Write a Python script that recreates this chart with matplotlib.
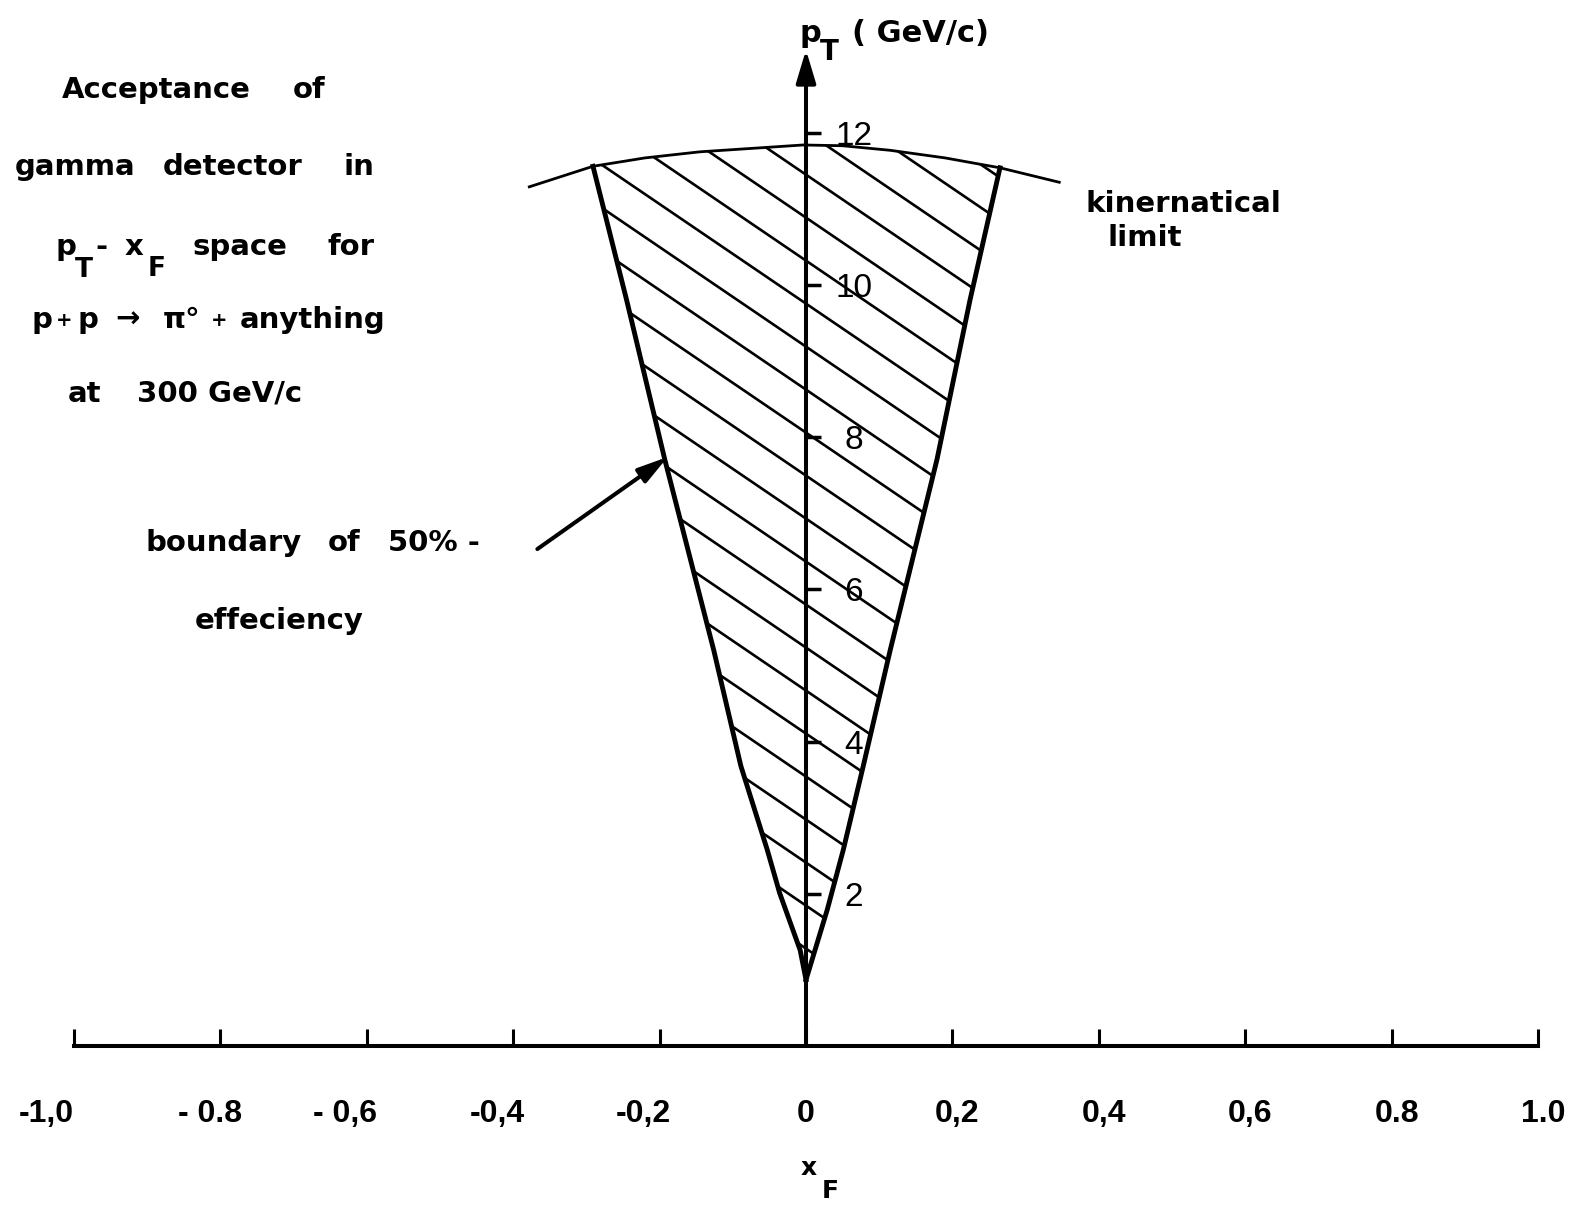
import numpy as np
import matplotlib.pyplot as plt
from matplotlib.patches import Polygon
from matplotlib.collections import LineCollection

W, H = 1581, 1205
X0, XS = 806, 732.0    # pixel column of xF = 0, pixels per unit of xF
Y0, YS = 1046, 76.1    # pixel row of pT = 0, pixels per GeV/c

# boundary of 50% efficiency, left and right branch (xF, pT in GeV/c)
left_pt = [0.87, 1.26, 2.01, 2.58, 3.68, 5.2, 7.71, 9.8, 11.56]
left_xf = [0.0, -0.008, -0.036, -0.053, -0.089, -0.126, -0.193, -0.245, -0.291]
right_pt = [0.87, 1.79, 2.58, 3.67, 5.2, 7.71, 9.8, 11.54]
right_xf = [0.0, 0.029, 0.051, 0.078, 0.115, 0.179, 0.224, 0.265]

# kinematical limit
kin_xf = [-0.378, -0.291, -0.22, -0.145, -0.004, 0.05, 0.115, 0.19, 0.265, 0.346]
kin_pt = [11.29, 11.56, 11.67, 11.75, 11.84, 11.83, 11.77, 11.67, 11.54, 11.35]

xf_ticks = [-1.0, -0.8, -0.6, -0.4, -0.2, 0.0, 0.2, 0.4, 0.6, 0.8, 1.0]
xf_labels = ["-1,0", "- 0.8", "- 0,6", "-0,4", "-0,2", "0", "0,2", "0,4", "0,6", "0.8", "1.0"]
pt_ticks = [2, 4, 6, 8, 10, 12]
pt_labels = ["2", "4", "6", "8", "10", "12"]

# hand-lettered labels sit a little off their ticks (pixels)
xf_label_shift = [-28, -10, -22, -16, -16, 0, 5, 5, 5, 5, 5]


def dx(px):
    return (px - X0) / XS


def dy(py):
    return (Y0 - py) / YS


fig = plt.figure(figsize=(W / 100, H / 100), dpi=100)
ax = fig.add_axes([0, 0, 1, 1])
ax.set_xlim(dx(0), dx(W))
ax.set_ylim(dy(H), dy(0))
ax.axis("off")

# hatched acceptance region, closed along the kinematical limit
poly_x = left_xf + kin_xf[2:8] + right_xf[::-1]
poly_pt = left_pt + kin_pt[2:8] + right_pt[::-1]
region = Polygon(np.column_stack([poly_x, poly_pt]), closed=True, fill=False, lw=0)
ax.add_patch(region)

slope = -0.68 * XS / YS
segs = [[(-0.45, c - 0.45 * slope), (0.45, c + 0.45 * slope)]
        for c in np.arange(2.41 - 0.565 * 6, 17, 0.565)]
hatch = LineCollection(segs, colors="k", linewidths=1.9)
ax.add_collection(hatch)
hatch.set_clip_path(region)

ax.plot(left_xf, left_pt, color="k", lw=3.5, solid_joinstyle="round")
ax.plot(right_xf, right_pt, color="k", lw=3.5, solid_joinstyle="round")
ax.plot(kin_xf, kin_pt, color="k", lw=2.0)

# axes
ax.plot([-1, 1], [0, 0], color="k", lw=2.9)
ax.vlines(xf_ticks, 0, 0.22, color="k", lw=2.2)
ax.annotate("", xy=(0, 13.09), xytext=(0, 0),
            arrowprops=dict(arrowstyle="-|>,head_length=1.0,head_width=0.3",
                            lw=2.9, color="k", shrinkA=0, shrinkB=0,
                            mutation_scale=20))
ax.hlines(pt_ticks, 0, 0.02, color="k", lw=2.5)

for t, s, off in zip(xf_ticks, xf_labels, xf_label_shift):
    ax.text(t + off / XS, dy(1122), s, ha="center", va="baseline",
            family="Liberation Sans", weight="bold", size=23)

for t, s in zip(pt_ticks, pt_labels):
    ax.text(dx(854), t - 12 / YS, s, ha="center", va="baseline",
            family="Liberation Sans", size=24)

# arrow pointing at the 50% boundary
ax.annotate("", xy=(-0.189, 7.74), xytext=(-0.367, 6.53),
            arrowprops=dict(arrowstyle="-|>,head_length=0.9,head_width=0.25",
                            lw=2.9, color="k", shrinkA=0, shrinkB=0,
                            mutation_scale=20))


def label(px, py, s, size=21, **kw):
    fig.text(px / W, 1 - py / H, s, ha="left", va="baseline",
             family="DejaVu Sans", weight="bold", size=size, **kw)


# title block
for s, px in [("Acceptance", 62), ("of", 293)]:
    label(px, 98, s)
for s, px in [("gamma", 15), ("detector", 163), ("in", 343)]:
    label(px, 175, s)
for s, px in [("p", 55), ("-", 95), ("x", 125), ("space", 193), ("for", 327)]:
    label(px, 255, s)
label(75, 277, "T", size=19)
label(148, 276, "F", size=19)
for s, px in [("p", 32), ("p", 78), ("→", 115), ("π°", 163), ("anything", 240)]:
    label(px, 328, s)
label(56, 326, "+", size=14)
label(211, 326, "+", size=14)
label(68, 402, "at")
label(137, 402, "300 GeV/c")

# axis titles
label(800, 42, "p", size=22)
label(820, 60, "T", size=20)
label(852, 42, "( GeV/c)", size=22)
label(801, 1175, "x", size=18)
label(822, 1198, "F", size=18)

label(1086, 212, "kinernatical")
label(1107, 246, "limit")
label(146, 551, "boundary")
label(328, 551, "of")
label(388, 551, "50% -")
label(195, 629, "effeciency")

fig.savefig("out.png", dpi=100, facecolor="white")
